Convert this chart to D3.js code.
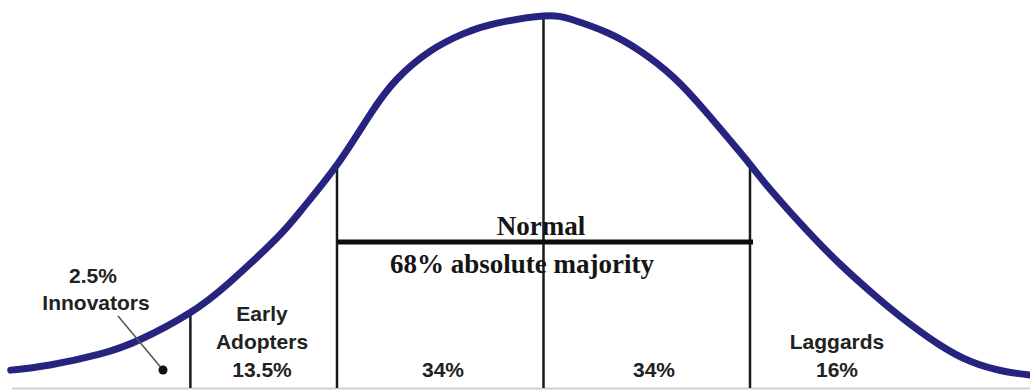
<!DOCTYPE html>
<html>
<head>
<meta charset="utf-8">
<script src="https://cdn.jsdelivr.net/npm/d3@7"></script>
<style>
  html, body { margin: 0; padding: 0; background: #fff; }
  svg { display: block; }
</style>
</head>
<body>
<svg id="chart" width="1030" height="390"></svg>
<script>
// adoption curve, x in standard deviations from the mean, height relative to the peak
const curveZ = [-2.58, -2.39, -2.15, -1.95, -1.71, -1.52, -1.29, -1.16, -1.0, -0.84, -0.71, -0.55, -0.39, -0.23, 0,
  0.14, 0.31, 0.47, 0.63, 0.79, 0.95, 1.0, 1.11, 1.28, 1.44, 1.6, 1.74, 1.91, 2.07, 2.23, 2.36, 2.42];
const curveH = [0.048, 0.062, 0.091, 0.131, 0.203, 0.284, 0.404, 0.487, 0.6, 0.735, 0.83, 0.905, 0.952, 0.98, 1.0,
  0.99, 0.955, 0.905, 0.835, 0.74, 0.635, 0.601, 0.526, 0.421, 0.331, 0.251, 0.187, 0.119, 0.071, 0.045, 0.035, 0.033];

// segment boundaries (vertical lines)
const dividers = [-1.71, -1.0, 0, 1.0];

const segmentNames = ["Early\nAdopters", "", "", "Laggards"];
const segmentShares = ["13.5%", "34%", "34%", "16%"];
const innovatorsLabel = ["2.5%", "Innovators"];
const majorityTitle = "Normal";
const majorityText = "68% absolute majority";

const width = 1030;
const height = 390;
const svg = d3.select("#chart");

const x = d3.scaleLinear().domain([-1, 1]).range([337, 750]);
const y = d3.scaleLinear().domain([0, 1]).range([388, 16]);

const points = curveZ.map((z, i) => ({ z: z, h: curveH[i] }));
const heightAt = (z) => {
  const p = points.find((d) => d.z === z);
  return p ? p.h : 0;
};

// light baseline at the bottom
svg.append("line")
  .attr("x1", 12)
  .attr("x2", width)
  .attr("y1", y(0) + 0.5)
  .attr("y2", y(0) + 0.5)
  .attr("stroke", "#cfcfcf")
  .attr("stroke-width", 2);

// vertical dividers up to the curve
svg.selectAll(".divider")
  .data(dividers)
  .enter()
  .append("line")
  .attr("class", "divider")
  .attr("x1", (d) => x(d))
  .attr("x2", (d) => x(d))
  .attr("y1", y(0))
  .attr("y2", (d) => y(heightAt(d)))
  .attr("stroke", "#1a1a1a")
  .attr("stroke-width", 2.5);

// thick bar across the majority
svg.append("line")
  .attr("x1", x(-1))
  .attr("x2", x(1) + 3)
  .attr("y1", 242)
  .attr("y2", 242)
  .attr("stroke", "#0d0d0d")
  .attr("stroke-width", 5);

// the bell curve
const line = d3.line()
  .x((d) => x(d.z))
  .y((d) => y(d.h))
  .curve(d3.curveNatural);

svg.append("path")
  .datum(points)
  .attr("d", line)
  .attr("fill", "none")
  .attr("stroke", "#25257f")
  .attr("stroke-width", 7)
  .attr("stroke-linecap", "round");

// innovators pointer
svg.append("line")
  .attr("x1", 118)
  .attr("y1", 316)
  .attr("x2", 163)
  .attr("y2", 370)
  .attr("stroke", "#555")
  .attr("stroke-width", 1.5);

svg.append("circle")
  .attr("cx", 163)
  .attr("cy", 370)
  .attr("r", 4.5)
  .attr("fill", "#111");

const sans = "'Liberation Sans', Arial, sans-serif";
const serif = "'Liberation Serif', 'Times New Roman', serif";

svg.selectAll(".innov")
  .data(innovatorsLabel)
  .enter()
  .append("text")
  .attr("class", "innov")
  .attr("x", (d, i) => (i === 0 ? 93 : 96))
  .attr("y", (d, i) => 283 + i * 27)
  .attr("text-anchor", "middle")
  .style("font-family", sans)
  .style("font-weight", "bold")
  .style("font-size", "21px")
  .style("fill", "#222")
  .text((d) => d);

// segment labels
const segCenters = [262, 443, 654, 837];

segmentShares.forEach((share, i) => {
  const lines = segmentNames[i] ? segmentNames[i].split("\n") : [];
  lines.push(share);
  const g = svg.append("g");
  lines.forEach((t, j) => {
    g.append("text")
      .attr("x", segCenters[i])
      .attr("y", 377 - (lines.length - 1 - j) * 28)
      .attr("text-anchor", "middle")
      .style("font-family", sans)
      .style("font-weight", "bold")
      .style("font-size", "21px")
      .style("fill", "#222")
      .text(t);
  });
});

svg.append("text")
  .attr("x", 541)
  .attr("y", 235)
  .attr("text-anchor", "middle")
  .style("font-family", serif)
  .style("font-weight", "bold")
  .style("font-size", "27px")
  .style("fill", "#151515")
  .text(majorityTitle);

svg.append("text")
  .attr("x", 390)
  .attr("y", 273)
  .style("font-family", serif)
  .style("font-weight", "bold")
  .style("font-size", "27px")
  .style("fill", "#151515")
  .text(majorityText);
</script>
</body>
</html>
